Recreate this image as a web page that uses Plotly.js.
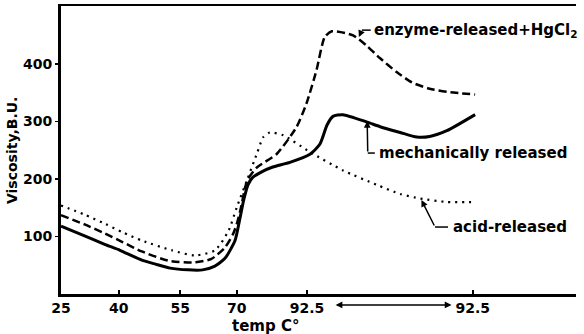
<!DOCTYPE html>
<html>
<head>
<meta charset="utf-8">
<script src="https://cdn.plot.ly/plotly-3.0.1.min.js"></script>
<style>html,body{margin:0;padding:0;background:#fff;}#chart{width:584px;height:334px;}</style>
</head>
<body>
<div id="chart"></div>
<script>
// x positions are elapsed time (min) on the Brabender run; labels show temperature
const tickPositions = [0, 9.8, 20.2, 29.8, 41.7, 69.8];
const tickLabels = ['25', '40', '55', '70', '92.5', '92.5'];

const mechX = [0, 4, 7.5, 10, 13.7, 16, 18.5, 21.5, 24, 26, 27.8, 29.5, 30.3, 31, 31.7, 32.5, 34.1, 35.9, 38.8, 42.2, 43.9, 45.1, 46.1, 47.8, 51.9, 54.1, 57.5, 60.3, 62.5, 65.4, 70.2];
const mechY = [118, 101, 86, 76, 59, 52, 45, 42, 42, 48, 62, 93, 130, 165, 190, 203, 213, 221, 229, 243, 261, 294, 309, 312, 299, 291, 281, 273, 274, 284, 312];

const enzX = [0, 4, 7.5, 10.5, 13.7, 18.2, 22.7, 25.5, 27.8, 29.2, 29.8, 30.5, 31.2, 31.7, 33.2, 36.6, 39.9, 41.6, 43.3, 44.7, 45.9, 49.5, 51.8, 54.1, 56.9, 59.5, 62.5, 66, 70.2];
const enzY = [137, 121, 105, 90, 74, 58, 55, 61, 81, 105, 122, 150, 185, 200, 220, 244, 290, 331, 389, 447, 457, 450, 432, 410, 386, 368, 357, 351, 347];

const acidX = [0, 4, 7.5, 10.5, 13.7, 18.8, 22.7, 26.1, 28.4, 29.8, 31.5, 33.2, 34.3, 35.4, 37.7, 42.2, 47.8, 53.5, 57.5, 60.9, 65.4, 70.2];
const acidY = [154, 138, 122, 107, 93, 76, 67, 76, 110, 151, 197, 244, 273, 281, 276, 247, 215, 190, 174, 166, 160, 160];

const seriesNames = ['mechanically released', 'enzyme-released+HgCl<sub>2</sub>', 'acid-released'];

const F = {family: 'DejaVu Sans', weight: 'bold', color: '#000'};

const traces = [
  {x: mechX, y: mechY, name: seriesNames[0], mode: 'lines',
   line: {color: '#000', width: 3, shape: 'spline', smoothing: 0.6}},
  {x: enzX, y: enzY, name: seriesNames[1], mode: 'lines',
   line: {color: '#000', width: 2.5, dash: '8px,4px', shape: 'spline', smoothing: 0.6}},
  {x: acidX, y: acidY, name: seriesNames[2], mode: 'lines',
   line: {color: '#000', width: 2.2, dash: '2px,5px', shape: 'spline', smoothing: 0.6}}
];

const lineShape = (x0, y0, x1, y1) => ({type: 'line', xref: 'x', yref: 'y', x0, y0, x1, y1, line: {color: '#000', width: 1.5}});
const arrowAnn = (x, y, ax, ay) => ({xref: 'x', yref: 'y', x, y, axref: 'x', ayref: 'y', ax, ay, text: '', showarrow: true, arrowhead: 2, arrowsize: 0.9, arrowwidth: 1.5, arrowcolor: '#000'});

const layout = {
  width: 584, height: 334,
  margin: {l: 61, r: 8, t: 6, b: 40},
  paper_bgcolor: '#fff', plot_bgcolor: '#fff',
  showlegend: false,
  font: {family: 'DejaVu Sans', weight: 'bold', size: 14, color: '#000'},
  xaxis: {
    range: [0, 87.3], tickvals: tickPositions, ticktext: tickLabels,
    ticks: 'inside', ticklen: 4, tickwidth: 1.5, tickcolor: '#000',
    showline: true, linewidth: 2.5, linecolor: '#000', mirror: true,
    showgrid: false, zeroline: false,
    tickfont: {family: 'DejaVu Sans', weight: 'bold', size: 14, color: '#000'}
  },
  yaxis: {
    range: [0, 501], tickvals: [100, 200, 300, 400],
    ticks: 'outside', ticklen: 3, tickwidth: 1.5, tickcolor: '#000',
    showline: true, linewidth: 3, linecolor: '#000',
    showgrid: false, zeroline: false,
    tickfont: {family: 'DejaVu Sans', weight: 'bold', size: 14, color: '#000'}
  },
  shapes: [
    lineShape(52.5, 459, 51.0, 459),
    lineShape(52.0, 245.2, 53.2, 245.2),
    lineShape(63.4, 116.5, 65.6, 116.5)
  ],
  annotations: [
    {xref: 'x', yref: 'y', x: 52.7, y: 459, xanchor: 'left', yanchor: 'middle', showarrow: false,
     text: 'enzyme-released+HgCl<sub>2</sub>', font: Object.assign({size: 15}, F)},
    arrowAnn(50.5, 447, 51.0, 459),
    {xref: 'x', yref: 'y', x: 53.5, y: 245, xanchor: 'left', yanchor: 'middle', showarrow: false,
     text: 'mechanically released', font: Object.assign({size: 15}, F)},
    arrowAnn(51.9, 300.9, 52.0, 245.2),
    {xref: 'x', yref: 'y', x: 66.1, y: 116, xanchor: 'left', yanchor: 'middle', showarrow: false,
     text: 'acid-released', font: Object.assign({size: 15}, F)},
    arrowAnn(61.1, 163.5, 63.4, 116.5),
    {xref: 'x', yref: 'paper', x: 66.2, y: -0.038, axref: 'x', ayref: 'pixel', ax: 46.3, ay: 0,
     text: '', showarrow: true, arrowside: 'end+start', arrowhead: 2, arrowsize: 0.9, arrowwidth: 1.5, arrowcolor: '#000'},
    {xref: 'paper', yref: 'paper', x: 0.398, y: -0.112, xanchor: 'center', yanchor: 'middle', showarrow: false,
     text: 'temp C°', font: Object.assign({size: 15}, F)},
    {xref: 'paper', yref: 'paper', x: -0.095, y: 0.5, xanchor: 'center', yanchor: 'middle', showarrow: false,
     textangle: -90, text: 'Viscosity,B.U.', font: Object.assign({size: 14}, F)}
  ]
};

Plotly.newPlot('chart', traces, layout, {staticPlot: true, displayModeBar: false});
</script>
</body>
</html>
